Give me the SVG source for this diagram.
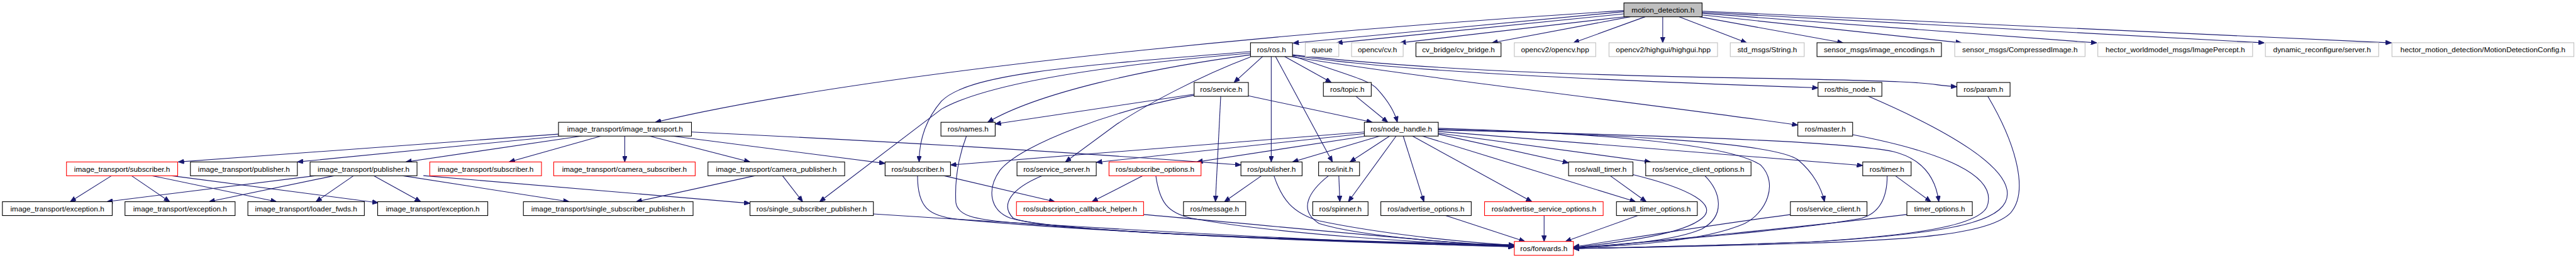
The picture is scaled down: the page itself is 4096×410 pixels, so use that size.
<svg xmlns="http://www.w3.org/2000/svg" width="4096" height="410" viewBox="0 0 4096 410">
<style>
.n rect{fill:#fff;stroke:#000;stroke-width:1.3}
.n.g rect{stroke:#bfbfbf}
.n.r rect{stroke:#ff0000}
.n.root rect{fill:#bfbfbf}
.n text{font-family:"Liberation Sans",Arial,sans-serif;font-size:14px;text-anchor:middle;fill:#000}
#edges path{fill:none;stroke:#191970;stroke-width:1.3;marker-end:url(#ah)}
</style>
<defs>
<marker id="ah" markerWidth="11" markerHeight="9" refX="11" refY="4.5" orient="auto" markerUnits="userSpaceOnUse">
<path d="M0,0 L11,4.5 L0,9 z" fill="#191970" stroke="#191970" stroke-width="1"/>
</marker>
</defs>
<rect x="0" y="0" width="4096" height="410" fill="#fff"/>
<g transform="scale(0.84576)">
<g id="edges">
<path d="M3053,22 L2431,81"/>
<path d="M3053,26 L2513,80.5"/>
<path d="M3058,31 L2632,80.5"/>
<path d="M3065,31.5 L2805,80.5"/>
<path d="M3093,31.5 L2958,80.5"/>
<path d="M3126,31.5 L3126,80.5"/>
<path d="M3157,31.5 L3284,80.5"/>
<path d="M3195,31.5 L3465,80.5"/>
<path d="M3200,28 L3688,80.5"/>
<path d="M3200,25 L3942,80.5"/>
<path d="M3200,23 L4257,80.5"/>
<path d="M3200,21 L4496,80.5"/>
<path d="M3053,20 C2600,48 1700,120 1232,229.7"/>
<path d="M2374,106 L2320,155"/>
<path d="M2390,106 L2390,304.3"/>
<path d="M2398,106 L2505,304.3"/>
<path d="M2415,106 L2503,155"/>
<path d="M2430,105 C2530,140 2575,150 2590,168 C2610,190 2622,210 2627,229.7"/>
<path d="M2430,104 C2600,130 2900,147 3418,165"/>
<path d="M2430,103 C2650,128 2900,140 3300,147 S3600,158 3679,163"/>
<path d="M2430,107 C2700,150 3100,195 3380,235"/>
<path d="M2351,103 C2150,130 1950,175 1857,229.7"/>
<path d="M2351,97 C2000,125 1820,140 1770,190 C1740,225 1728,265 1728,304.3"/>
<path d="M2351,100 C2050,125 1850,160 1770,205 L1541,379"/>
<path d="M2351,107 C2250,145 2150,200 2100,233 L2003,304.3"/>
<path d="M2347,180 L2580,229.7"/>
<path d="M2295,180.7 L2285,379"/>
<path d="M2245,177 L1871,233"/>
<path d="M2245,179 C2100,205 1920,270 1880,320 C1855,355 1860,395 1900,410 C2000,440 2600,455 2847,460"/>
<path d="M2549,180.7 L2609,229.7"/>
<path d="M1050,252 L335,304.3"/>
<path d="M1057,255.4 L559,304.3"/>
<path d="M1095,255.4 L763,304.3"/>
<path d="M1131,255.4 L957,304.3"/>
<path d="M1174.6,255.4 L1174.6,304.3"/>
<path d="M1220,255.4 L1410,304.3"/>
<path d="M1262,255.4 L1664,307"/>
<path d="M1300,248 C1600,262 2000,285 2333,310"/>
<path d="M210,330 L132,379"/>
<path d="M247,330 L319,379"/>
<path d="M285,330 L520,379"/>
<path d="M321,330 L711,381"/>
<path d="M594,330 L201,379"/>
<path d="M629,330 L393,379"/>
<path d="M665,330 L594,379"/>
<path d="M702,330 L791,379"/>
<path d="M756,330 L1070,379"/>
<path d="M796,330 L1410,382"/>
<path d="M1420,330 L1196,379"/>
<path d="M1471,330 L1509,379"/>
<path d="M1774,330 L1983,379"/>
<path d="M1725,330 C1725,390 1745,405 1800,412 C2100,440 2600,457 2847,462"/>
<path d="M1817,255.4 C1800,300 1795,340 1797,380 C1800,405 1830,412 1900,418 C2200,445 2600,458 2847,463"/>
<path d="M1642,402 C2000,425 2500,455 2847,464"/>
<path d="M1960,330 C1900,355 1880,385 1905,410 C1960,435 2500,455 2847,461"/>
<path d="M2149,330 L2053,379"/>
<path d="M2173,330 C2180,380 2195,400 2240,410 C2400,440 2700,458 2847,462"/>
<path d="M2150,403 C2400,425 2700,455 2847,464"/>
<path d="M2372,330 L2302,379"/>
<path d="M2395,330 C2410,375 2430,400 2480,415 C2600,440 2750,455 2847,461"/>
<path d="M2517,330 L2519,379"/>
<path d="M2498,330 C2460,360 2440,395 2480,420 C2560,445 2750,458 2847,462"/>
<path d="M2565,248 L1787,310"/>
<path d="M2565,251 L2061,305"/>
<path d="M2570,255.4 L2250,304.3"/>
<path d="M2595,255.4 L2430,304.3"/>
<path d="M2613,255.4 L2538,304.3"/>
<path d="M2625,255.4 L2535,379"/>
<path d="M2638,255.4 L2677,379"/>
<path d="M2655,255.4 L2880,379"/>
<path d="M2673,255.4 L3075,379"/>
<path d="M2704,252 L2949,306"/>
<path d="M2704,250 L3103,304.3"/>
<path d="M2704,247 L3502,311"/>
<path d="M2704,244 C3000,252 3450,262 3560,285 C3620,300 3640,340 3645,379"/>
<path d="M2704,243 C3000,252 3330,265 3380,300 C3410,325 3425,355 3430,379"/>
<path d="M2704,241 C3000,250 3250,270 3310,310 C3345,345 3320,400 3280,420 C3200,455 3050,462 2958,466"/>
<path d="M3027,330 L3095,379"/>
<path d="M3070,328 C3180,355 3230,385 3200,410 C3165,440 3050,455 2958,465"/>
<path d="M3205,330 C3235,360 3245,405 3200,430 C3150,452 3050,460 2958,466"/>
<path d="M3080,404.7 L2943,453.7"/>
<path d="M3367,403 C3200,425 3050,450 2958,464"/>
<path d="M3563,330 L3630,379"/>
<path d="M3548,330 C3548,370 3535,400 3500,410 C3400,430 3100,455 2958,466"/>
<path d="M3585,403 C3400,425 3100,455 2958,466"/>
<path d="M3483,253 C3650,285 3760,330 3735,390 C3715,425 3600,442 3400,455 C3200,462 3050,465 2958,467"/>
<path d="M3512,180.7 C3650,240 3800,320 3770,380 C3750,420 3650,440 3400,455 C3200,462 3050,465 2958,467"/>
<path d="M3737,180.7 C3790,270 3815,360 3780,400 C3740,440 3600,450 3400,457 C3200,463 3050,466 2958,467"/>
<path d="M2717,404.7 L2867,453.7"/>
<path d="M2903,404.7 L2903,453.7"/>
</g>
<g id="motion_detection_h" class="n root"><rect x="3053" y="5.5" width="147" height="26"/><text x="3126.5" y="23.5">motion_detection.h</text></g>
<g id="ros_ros_h" class="n"><rect x="2351" y="80.3" width="79" height="26"/><text x="2390.5" y="98.3">ros/ros.h</text></g>
<g id="queue" class="n g"><rect x="2454" y="80.3" width="63" height="26"/><text x="2485.5" y="98.3">queue</text></g>
<g id="opencv_cv_h" class="n g"><rect x="2541" y="80.3" width="97" height="26"/><text x="2589.5" y="98.3">opencv/cv.h</text></g>
<g id="cv_bridge_h" class="n"><rect x="2662" y="80.3" width="160" height="26"/><text x="2742" y="98.3">cv_bridge/cv_bridge.h</text></g>
<g id="opencv2_opencv_hpp" class="n g"><rect x="2847" y="80.3" width="153" height="26"/><text x="2923.5" y="98.3">opencv2/opencv.hpp</text></g>
<g id="highgui_hpp" class="n g"><rect x="3025" y="80.3" width="204" height="26"/><text x="3127" y="98.3">opencv2/highgui/highgui.hpp</text></g>
<g id="std_msgs_string_h" class="n g"><rect x="3253" y="80.3" width="139" height="26"/><text x="3322.5" y="98.3">std_msgs/String.h</text></g>
<g id="image_encodings_h" class="n"><rect x="3416" y="80.3" width="234" height="26"/><text x="3533" y="98.3">sensor_msgs/image_encodings.h</text></g>
<g id="compressed_image_h" class="n g"><rect x="3675" y="80.3" width="245" height="26"/><text x="3797.5" y="98.3">sensor_msgs/CompressedImage.h</text></g>
<g id="image_percept_h" class="n g"><rect x="3944" y="80.3" width="291" height="26"/><text x="4089.5" y="98.3">hector_worldmodel_msgs/ImagePercept.h</text></g>
<g id="dynreconf_server_h" class="n g"><rect x="4259" y="80.3" width="213" height="26"/><text x="4365.5" y="98.3">dynamic_reconfigure/server.h</text></g>
<g id="motion_detection_config_h" class="n g"><rect x="4497" y="80.3" width="342" height="26"/><text x="4668" y="98.3">hector_motion_detection/MotionDetectionConfig.h</text></g>
<g id="ros_service_h" class="n"><rect x="2245" y="155" width="102" height="26"/><text x="2296" y="173">ros/service.h</text></g>
<g id="ros_topic_h" class="n"><rect x="2488" y="155" width="90" height="26"/><text x="2533" y="173">ros/topic.h</text></g>
<g id="ros_this_node_h" class="n"><rect x="3418" y="155" width="120" height="26"/><text x="3478" y="173">ros/this_node.h</text></g>
<g id="ros_param_h" class="n"><rect x="3679" y="155" width="100" height="26"/><text x="3729" y="173">ros/param.h</text></g>
<g id="it_image_transport_h" class="n"><rect x="1050" y="229.7" width="250" height="26"/><text x="1175" y="247.7">image_transport/image_transport.h</text></g>
<g id="ros_names_h" class="n"><rect x="1769" y="229.7" width="102" height="26"/><text x="1820" y="247.7">ros/names.h</text></g>
<g id="ros_node_handle_h" class="n"><rect x="2565" y="229.7" width="139" height="26"/><text x="2634.5" y="247.7">ros/node_handle.h</text></g>
<g id="ros_master_h" class="n"><rect x="3380" y="229.7" width="103" height="26"/><text x="3431.5" y="247.7">ros/master.h</text></g>
<g id="it_subscriber_h_1" class="n r"><rect x="125" y="304.3" width="209" height="26"/><text x="229.5" y="322.3">image_transport/subscriber.h</text></g>
<g id="it_publisher_h_1" class="n"><rect x="358" y="304.3" width="201" height="26"/><text x="458.5" y="322.3">image_transport/publisher.h</text></g>
<g id="it_publisher_h_2" class="n"><rect x="583" y="304.3" width="201" height="26"/><text x="683.5" y="322.3">image_transport/publisher.h</text></g>
<g id="it_subscriber_h_2" class="n r"><rect x="808" y="304.3" width="210" height="26"/><text x="913" y="322.3">image_transport/subscriber.h</text></g>
<g id="it_camera_subscriber_h" class="n r"><rect x="1041" y="304.3" width="266" height="26"/><text x="1174" y="322.3">image_transport/camera_subscriber.h</text></g>
<g id="it_camera_publisher_h" class="n"><rect x="1331" y="304.3" width="257" height="26"/><text x="1459.5" y="322.3">image_transport/camera_publisher.h</text></g>
<g id="ros_subscriber_h" class="n"><rect x="1664" y="304.3" width="123" height="26"/><text x="1725.5" y="322.3">ros/subscriber.h</text></g>
<g id="ros_service_server_h" class="n"><rect x="1912" y="304.3" width="149" height="26"/><text x="1986.5" y="322.3">ros/service_server.h</text></g>
<g id="ros_subscribe_options_h" class="n r"><rect x="2085" y="304.3" width="173" height="26"/><text x="2171.5" y="322.3">ros/subscribe_options.h</text></g>
<g id="ros_publisher_h" class="n"><rect x="2333" y="304.3" width="115" height="26"/><text x="2390.5" y="322.3">ros/publisher.h</text></g>
<g id="ros_init_h" class="n"><rect x="2479" y="304.3" width="77" height="26"/><text x="2517.5" y="322.3">ros/init.h</text></g>
<g id="ros_wall_timer_h" class="n"><rect x="2949" y="304.3" width="121" height="26"/><text x="3009.5" y="322.3">ros/wall_timer.h</text></g>
<g id="ros_service_client_options_h" class="n"><rect x="3094" y="304.3" width="198" height="26"/><text x="3193" y="322.3">ros/service_client_options.h</text></g>
<g id="ros_timer_h" class="n"><rect x="3502" y="304.3" width="91" height="26"/><text x="3547.5" y="322.3">ros/timer.h</text></g>
<g id="it_exception_h_1" class="n"><rect x="4.5" y="379" width="206.5" height="26"/><text x="107.75" y="397">image_transport/exception.h</text></g>
<g id="it_exception_h_2" class="n"><rect x="235" y="379" width="207" height="26"/><text x="338.5" y="397">image_transport/exception.h</text></g>
<g id="it_loader_fwds_h" class="n"><rect x="466" y="379" width="219" height="26"/><text x="575.5" y="397">image_transport/loader_fwds.h</text></g>
<g id="it_exception_h_3" class="n"><rect x="710" y="379" width="207" height="26"/><text x="813.5" y="397">image_transport/exception.h</text></g>
<g id="it_single_subscriber_publisher_h" class="n"><rect x="984" y="379" width="319" height="26"/><text x="1143.5" y="397">image_transport/single_subscriber_publisher.h</text></g>
<g id="ros_single_subscriber_publisher_h" class="n"><rect x="1410" y="379" width="232" height="26"/><text x="1526" y="397">ros/single_subscriber_publisher.h</text></g>
<g id="ros_subscription_callback_helper_h" class="n r"><rect x="1911" y="379" width="239" height="26"/><text x="2030.5" y="397">ros/subscription_callback_helper.h</text></g>
<g id="ros_message_h" class="n"><rect x="2225" y="379" width="117" height="26"/><text x="2283.5" y="397">ros/message.h</text></g>
<g id="ros_spinner_h" class="n"><rect x="2468" y="379" width="104" height="26"/><text x="2520" y="397">ros/spinner.h</text></g>
<g id="ros_advertise_options_h" class="n"><rect x="2596" y="379" width="170" height="26"/><text x="2681" y="397">ros/advertise_options.h</text></g>
<g id="ros_advertise_service_options_h" class="n r"><rect x="2791" y="379" width="223" height="26"/><text x="2902.5" y="397">ros/advertise_service_options.h</text></g>
<g id="wall_timer_options_h" class="n"><rect x="3039" y="379" width="152" height="26"/><text x="3115" y="397">wall_timer_options.h</text></g>
<g id="ros_service_client_h" class="n"><rect x="3366" y="379" width="144" height="26"/><text x="3438" y="397">ros/service_client.h</text></g>
<g id="timer_options_h" class="n"><rect x="3585" y="379" width="123" height="26"/><text x="3646.5" y="397">timer_options.h</text></g>
<g id="ros_forwards_h" class="n r"><rect x="2847" y="453.7" width="111" height="26"/><text x="2902.5" y="471.7">ros/forwards.h</text></g>
</g>
</svg>
